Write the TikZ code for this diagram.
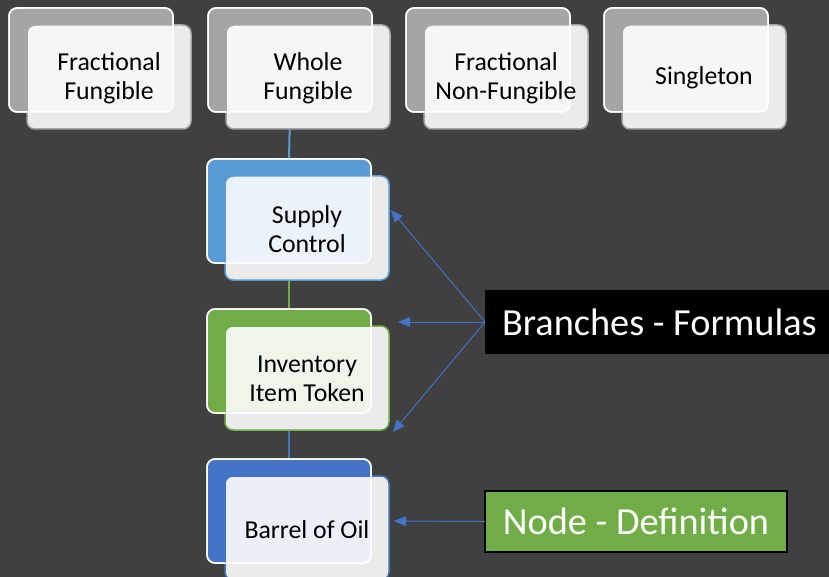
\documentclass[tikz,border=0pt]{standalone}
\usepackage{fontspec}
\setmainfont{Carlito}
\usetikzlibrary{arrows.meta}

\definecolor{canvas}{HTML}{404040}
\definecolor{backgray}{HTML}{A5A5A5}
\definecolor{frontgray}{HTML}{EBEBEB}
\definecolor{lightgray}{HTML}{F6F6F6}
\definecolor{skyblue}{HTML}{5B9BD5}
\definecolor{skytint}{HTML}{EBF2FA}
\definecolor{leafgreen}{HTML}{70AD47}
\definecolor{leaftint}{HTML}{F0F5EC}
\definecolor{deepblue}{HTML}{4472C4}
\definecolor{deeptint}{HTML}{EBEFF8}

\pgfdeclarelayer{canvaslayer}
\pgfdeclarelayer{links}
\pgfsetlayers{canvaslayer,links,main}

\tikzset{
  x=1pt, y=-1pt,
  card/.style={rounded corners=8pt, minimum width=164pt, minimum height=104pt,
    anchor=north west, outer sep=0pt, inner sep=0pt},
  backcard/.style={card, draw=white, line width=1.5pt},
  frontcard/.style={card, fill=frontgray, line width=1.5pt},
  cardtext/.style={align=center, text=black, font=\fontsize{25.8}{29}\selectfont},
  link/.style={line width=2pt},
  pointer/.style={draw=deepblue, line width=1pt, -{Triangle[length=12pt,width=10pt]}},
  callout/.style={text=white, font=\fontsize{38.3}{44}\selectfont, outer sep=0pt},
}

% #1 name, #2/#3 top-left of the rear card, #4 rear fill,
% #5 tint where the cards overlap, #6 front edge colour, #7 label
\newcommand\tiercard[7]{%
  \node[backcard, fill=#4] (#1b) at (#2,#3) {};
  \node[frontcard, draw=#6,
        path picture={\fill[#5, rounded corners=8pt]
          (#1b.north west) rectangle (#1b.south east);}] (#1f) at (#2+18,#3+17) {};
  \draw[white, line width=1.5pt, rounded corners=8pt]
    (#1b.north west) rectangle (#1b.south east);
  \node[cardtext] (#1t) at ([yshift=-1.2pt]#1f.center) {#7};
}

\begin{document}
\begin{tikzpicture}
  \begin{pgfonlayer}{canvaslayer}
    \fill[canvas] (0,0) rectangle (829,577);
  \end{pgfonlayer}
  \useasboundingbox (0,0) rectangle (829,577);

  % top row of token kinds
  \tiercard{ff}{9}{8}{backgray}{lightgray}{backgray}{Fractional\\Fungible}
  \tiercard{wf}{208}{8}{backgray}{lightgray}{backgray}{Whole\\Fungible}
  \tiercard{fn}{406}{8}{backgray}{lightgray}{backgray}{Fractional\\Non-Fungible}
  \tiercard{sg}{604}{8}{backgray}{lightgray}{backgray}{Singleton}

  % chain under "Whole Fungible"
  \tiercard{sc}{207}{159}{skyblue}{skytint}{skyblue}{Supply\\Control}
  \tiercard{it}{207}{309}{leafgreen}{leaftint}{leafgreen}{Inventory\\Item Token}
  \tiercard{bo}{207}{459}{deepblue}{deeptint}{deepblue}{Barrel of Oil}

  \begin{pgfonlayer}{links}
    \draw[link, skyblue] (wfb.south) -- (scb.north);
    \draw[link, leafgreen] (scb.south) -- (itb.north);
    \draw[link, deepblue] (itb.south) -- (bob.north);
  \end{pgfonlayer}

  % legend callouts
  \node[callout, fill=black, anchor=west, inner xsep=17pt, inner ysep=0pt,
        minimum height=64pt] (br) at (485,322) {Branches - Formulas};
  \node[callout, fill=leafgreen, draw=black, line width=1.5pt,
        minimum width=302pt, minimum height=61pt] (nd) at (636,521.5) {Node - Definition};

  \coordinate (tsc) at (391,210);
  \coordinate (tit) at (398,322);
  \coordinate (tbt) at (393,432);
  \coordinate (tbo) at (394,521);

  \draw[pointer] (br.west) -- (tsc);
  \draw[pointer] (br.west) -- (tit);
  \draw[pointer] (br.west) -- (tbt);
  \draw[pointer] (nd.west) -- (tbo);
\end{tikzpicture}
\end{document}
